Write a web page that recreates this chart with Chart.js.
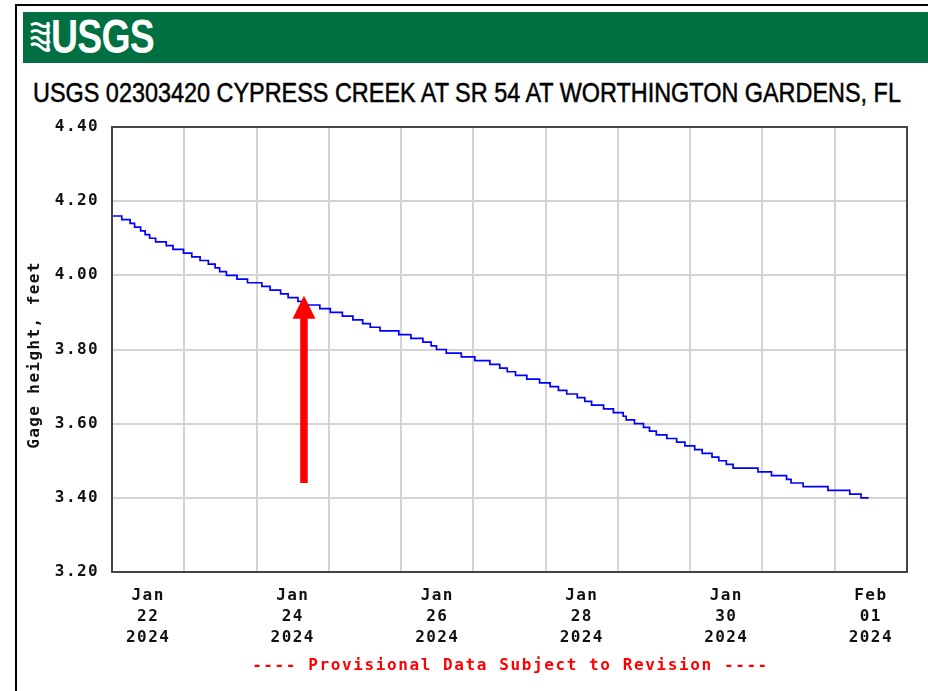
<!DOCTYPE html>
<html>
<head>
<meta charset="utf-8">
<title>USGS 02303420 Cypress Creek gage height</title>
<script src="https://cdn.jsdelivr.net/npm/chart.js@4.4.1/dist/chart.umd.min.js"></script>
<style>
  html, body { margin: 0; padding: 0; background: #fff; }
  body { width: 928px; height: 691px; position: relative; overflow: hidden; }

  .frame {
    position: absolute; left: 15px; top: 4px; width: 930px; height: 700px;
    border-left: 2px solid #000; border-top: 2px solid #000; box-sizing: border-box;
  }
  .banner {
    position: absolute; left: 23px; top: 12px; width: 905px; height: 51px; background: #006f41;
  }
  .banner svg { position: absolute; left: 7px; top: 9px; }
  .wordmark {
    position: absolute; left: 28px; top: 1px; color: #fff;
    font: bold 48px/48px "Liberation Sans", Arial, sans-serif;
    transform: scaleX(0.78); transform-origin: left top; letter-spacing: -1px;
  }
  .site-title {
    position: absolute; left: 33px; top: 79px; white-space: nowrap; color: #000;
    font: 28px/28px "Liberation Sans", Arial, sans-serif;
    -webkit-text-stroke: 0.5px #000;
    transform-origin: left top;
  }
  .provisional {
    position: absolute; left: 112px; width: 797px; top: 656px; text-align: center; color: #ff0000;
    font: bold 16px/18px "DejaVu Sans Mono", monospace; letter-spacing: 1.6px; white-space: pre;
  }
  #gage { position: absolute; left: 0; top: 0; }
</style>
</head>
<body>
<div class="frame"></div>
<div class="banner">
  <svg width="21" height="32" viewBox="0 0 21 32">
    <path d="M1 4 Q6 1 10 4 T20 4" stroke="#fff" stroke-width="3" fill="none"/>
    <path d="M1 11 Q6 8 10 11 T20 11" stroke="#fff" stroke-width="3" fill="none"/>
    <path d="M1 18 Q6 14 10 19 T20 20" stroke="#fff" stroke-width="3" fill="none"/>
    <path d="M1 24 Q6 21 11 26 T20 28" stroke="#fff" stroke-width="3" fill="none"/>
    <path d="M18 1 V31" stroke="#fff" stroke-width="3"/>
  </svg>
  <span class="wordmark">USGS</span>
</div>
<div class="site-title" id="siteTitle">USGS 02303420 CYPRESS CREEK AT SR 54 AT WORTHINGTON GARDENS, FL</div>
<canvas id="gage" width="928" height="691"></canvas>
<div class="provisional">---- Provisional Data Subject to Revision ----</div>

<script>
// gage height readings: time of each 0.01 ft change and the new level (feet)
const stageTimes = [
  '2024-01-22T00:00', '2024-01-22T03:15', '2024-01-22T06:00', '2024-01-22T07:30', '2024-01-22T09:30',
  '2024-01-22T11:00', '2024-01-22T12:30', '2024-01-22T14:30', '2024-01-22T18:00', '2024-01-22T20:15',
  '2024-01-22T23:45', '2024-01-23T02:30', '2024-01-23T05:15', '2024-01-23T08:00', '2024-01-23T10:15',
  '2024-01-23T11:45', '2024-01-23T14:00', '2024-01-23T17:30', '2024-01-23T21:00', '2024-01-24T01:45',
  '2024-01-24T04:30', '2024-01-24T08:00', '2024-01-24T10:30', '2024-01-24T13:45', '2024-01-24T16:00',
  '2024-01-24T21:00', '2024-01-25T00:30', '2024-01-25T04:30', '2024-01-25T08:00', '2024-01-25T11:15',
  '2024-01-25T13:45', '2024-01-25T17:00', '2024-01-25T23:15', '2024-01-26T03:15', '2024-01-26T07:15',
  '2024-01-26T10:00', '2024-01-26T11:45', '2024-01-26T15:00', '2024-01-26T20:00', '2024-01-27T00:30',
  '2024-01-27T05:30', '2024-01-27T08:45', '2024-01-27T11:15', '2024-01-27T14:00', '2024-01-27T17:45',
  '2024-01-27T22:00', '2024-01-28T01:30', '2024-01-28T04:15', '2024-01-28T07:00', '2024-01-28T10:30',
  '2024-01-28T13:00', '2024-01-28T15:15', '2024-01-28T19:15', '2024-01-28T22:30', '2024-01-29T01:45',
  '2024-01-29T02:45', '2024-01-29T05:30', '2024-01-29T08:30', '2024-01-29T10:30', '2024-01-29T12:45',
  '2024-01-29T16:15', '2024-01-29T19:30', '2024-01-29T22:15', '2024-01-30T01:30', '2024-01-30T04:00',
  '2024-01-30T07:15', '2024-01-30T09:30', '2024-01-30T12:00', '2024-01-30T14:15', '2024-01-30T22:30',
  '2024-01-31T03:00', '2024-01-31T08:00', '2024-01-31T09:30', '2024-01-31T13:30', '2024-01-31T21:45',
  '2024-02-01T05:00', '2024-02-01T08:45', '2024-02-01T11:15'
];
const stageFeet = [
  4.16, 4.15, 4.14, 4.13, 4.12,
  4.11, 4.10, 4.09, 4.08, 4.07,
  4.06, 4.05, 4.04, 4.03, 4.02,
  4.01, 4.00, 3.99, 3.98, 3.97,
  3.96, 3.95, 3.94, 3.93, 3.92,
  3.91, 3.90, 3.89, 3.88, 3.87,
  3.86, 3.85, 3.84, 3.83, 3.82,
  3.81, 3.80, 3.79, 3.78, 3.77,
  3.76, 3.75, 3.74, 3.73, 3.72,
  3.71, 3.70, 3.69, 3.68, 3.67,
  3.66, 3.65, 3.64, 3.63, 3.62,
  3.61, 3.60, 3.59, 3.58, 3.57,
  3.56, 3.55, 3.54, 3.53, 3.52,
  3.51, 3.50, 3.49, 3.48, 3.47,
  3.46, 3.45, 3.44, 3.43, 3.42,
  3.41, 3.40, 3.40
];

// axes
const yTicks = [3.20, 3.40, 3.60, 3.80, 4.00, 4.20, 4.40];
const xRange = ['2024-01-22T00:00', '2024-02-02T00:00'];
const xLabelTimes = ['2024-01-22T12:00', '2024-01-24T12:00', '2024-01-26T12:00',
                     '2024-01-28T12:00', '2024-01-30T12:00', '2024-02-01T12:00'];
const xLabelText = [['Jan', '22', '2024'], ['Jan', '24', '2024'], ['Jan', '26', '2024'],
                    ['Jan', '28', '2024'], ['Jan', '30', '2024'], ['Feb', '01', '2024']];

// red arrow drawn on top of the graph (time, tail level, tip level)
const arrowTime = '2024-01-24T15:45';
const arrowTail = 3.44;
const arrowTip = 3.945;

const ms = s => new Date(s).getTime();
const DAY = 24 * 3600 * 1000;
const mono = '"DejaVu Sans Mono", monospace';
const gridGray = '#d4d4d4';

// title is stretched to the width it has in the original graph
const titleEl = document.getElementById('siteTitle');
titleEl.style.transform = `scaleX(${868 / titleEl.scrollWidth})`;

// the original axis font is a spaced-out fixed font
const spacingPlugin = {
    id: 'spacedText',
    beforeDraw(chart) { chart.ctx.letterSpacing = '1.4px'; }
};

const framePlugin = {
    id: 'plotFrame',
    afterDatasetsDraw(chart) {
        const { ctx, chartArea: a } = chart;
        ctx.save();
        ctx.strokeStyle = '#444';
        ctx.lineWidth = 2;
        ctx.strokeRect(a.left, a.top, a.right - a.left, a.bottom - a.top);
        ctx.restore();
    }
};

const arrowPlugin = {
    id: 'redArrow',
    afterDraw(chart) {
        const { ctx, scales: { x, y } } = chart;
        const px = x.getPixelForValue(ms(arrowTime));
        const tip = y.getPixelForValue(arrowTip);
        const tail = y.getPixelForValue(arrowTail);
        const head = 23;
        ctx.save();
        ctx.fillStyle = '#ff0000';
        ctx.fillRect(px - 3.75, tip + head - 1, 7.5, tail - tip - head + 1);
        ctx.beginPath();
        ctx.moveTo(px, tip);
        ctx.lineTo(px - 11.5, tip + head);
        ctx.lineTo(px + 11.5, tip + head);
        ctx.closePath();
        ctx.fill();
        ctx.restore();
    }
};

const points = stageTimes.map((t, i) => ({ x: ms(t), y: stageFeet[i] }));
const labelAt = new Map(xLabelTimes.map((t, i) => [ms(t), xLabelText[i]]));

new Chart(document.getElementById('gage'), {
    type: 'line',
    data: {
        datasets: [{
            label: 'Gage height',
            data: points,
            borderColor: '#0000ff',
            borderWidth: 1.7,
            pointRadius: 0,
            stepped: true,
            fill: false
        }]
    },
    options: {
        responsive: false,
        animation: false,
        devicePixelRatio: 1,
        layout: { padding: { top: 127, left: 15, right: 21, bottom: 39 } },
        plugins: { legend: { display: false }, tooltip: { enabled: false } },
        scales: {
            x: {
                type: 'linear',
                min: ms(xRange[0]),
                max: ms(xRange[1]),
                afterBuildTicks: (scale) => {
                    const ticks = [];
                    for (let t = ms(xRange[0]); t <= ms(xRange[1]); t += DAY) ticks.push({ value: t });
                    xLabelTimes.forEach(t => ticks.push({ value: ms(t) }));
                    ticks.sort((a, b) => a.value - b.value);
                    scale.ticks = ticks;
                },
                afterFit: (scale) => { scale.height = 80; },
                grid: {
                    drawTicks: false,
                    lineWidth: 2,
                    color: (c) => (c.tick && labelAt.has(c.tick.value)) ? 'rgba(0,0,0,0)' : gridGray
                },
                border: { display: false },
                ticks: {
                    autoSkip: false,
                    maxRotation: 0,
                    minRotation: 0,
                    padding: 13,
                    color: '#111',
                    font: { family: mono, size: 16, weight: 'bold', lineHeight: 21 / 16 },
                    callback: (v) => labelAt.get(v) || ''
                }
            },
            y: {
                min: 3.2,
                max: 4.4,
                afterBuildTicks: (scale) => { scale.ticks = yTicks.map(v => ({ value: v })); },
                afterFit: (scale) => { scale.width = 97; },
                grid: { drawTicks: false, lineWidth: 2, color: gridGray },
                border: { display: false },
                ticks: {
                    padding: 13,
                    color: '#111',
                    font: { family: mono, size: 16, weight: 'bold' },
                    callback: (v) => v.toFixed(2)
                },
                title: {
                    display: true,
                    // trailing space nudges the rotated title down to where the original sits
                    text: 'Gage height, feet ',
                    color: '#111',
                    padding: { top: 10, bottom: 0 },
                    font: { family: mono, size: 16, weight: 'bold' }
                }
            }
        }
    },
    plugins: [spacingPlugin, framePlugin, arrowPlugin]
});
</script>
</body>
</html>
